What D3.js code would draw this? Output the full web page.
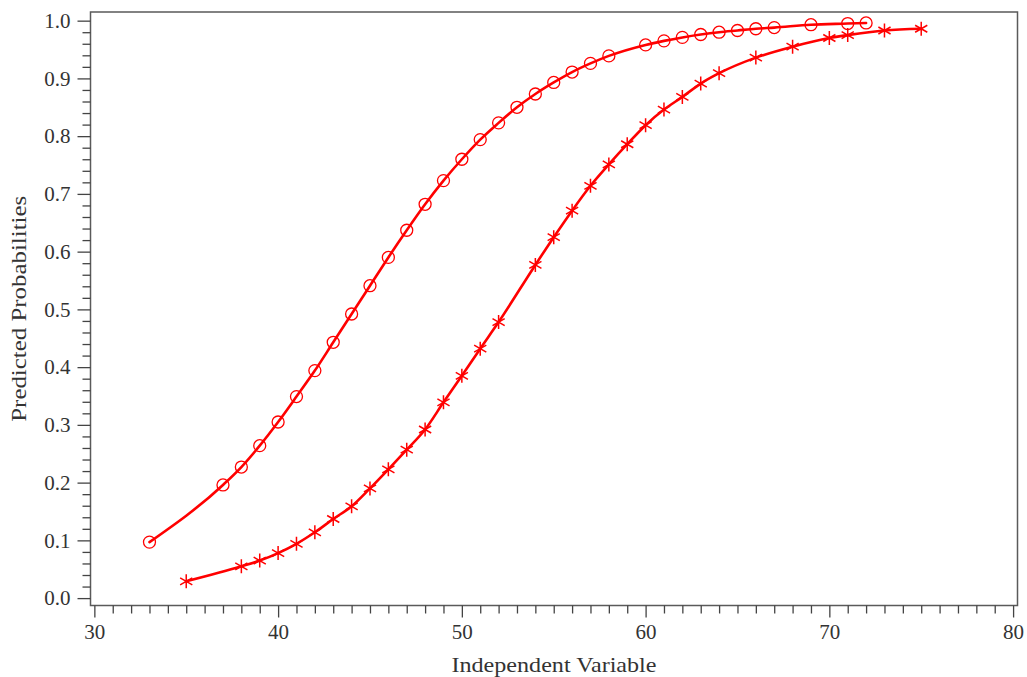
<!DOCTYPE html>
<html>
<head>
<meta charset="utf-8">
<script src="https://cdn.jsdelivr.net/npm/d3@7"></script>
<style>
  html, body { margin: 0; padding: 0; background: #fff; }
  svg { display: block; }
  text { font-family: "Liberation Serif", "DejaVu Serif", serif; fill: #333; }
</style>
</head>
<body>
<svg id="chart" width="1027" height="677"></svg>
<script>
// ---- data ----
const circleX = [33, 37, 38, 39, 40, 41, 42, 43, 44, 45, 46, 47, 48, 49, 50, 51, 52, 53, 54, 55, 56, 57, 58, 60, 61, 62, 63, 64, 65, 66, 67, 69, 71, 72];
const circleY = [0.097, 0.196, 0.227, 0.264, 0.305, 0.349, 0.394, 0.443, 0.492, 0.541, 0.590, 0.637, 0.682, 0.723, 0.760, 0.794, 0.823, 0.850, 0.873, 0.893, 0.911, 0.926, 0.939, 0.958, 0.965, 0.971, 0.976, 0.980, 0.983, 0.986, 0.988, 0.993, 0.995, 0.996];
const starX = [35, 38, 39, 40, 41, 42, 43, 44, 45, 46, 47, 48, 49, 50, 51, 52, 54, 55, 56, 57, 58, 59, 60, 61, 62, 63, 64, 66, 68, 70, 71, 73, 75];
const starY = [0.029, 0.055, 0.065, 0.078, 0.094, 0.114, 0.137, 0.159, 0.190, 0.223, 0.257, 0.292, 0.339, 0.385, 0.432, 0.478, 0.577, 0.625, 0.671, 0.714, 0.751, 0.786, 0.819, 0.846, 0.868, 0.891, 0.909, 0.936, 0.955, 0.970, 0.975, 0.983, 0.986];
const xTickValues = [30, 40, 50, 60, 70, 80];
const yTickValues = [0, 0.1, 0.2, 0.3, 0.4, 0.5, 0.6, 0.7, 0.8, 0.9, 1.0];
const xTitle = "Independent Variable";
const yTitle = "Predicted Probabilities";

// ---- layout ----
const svg = d3.select("#chart");
const plot = { left: 90.5, right: 1017.5, top: 12, bottom: 605.5 };
const x = d3.scaleLinear().domain([29.79, 80.24]).range([plot.left, plot.right]);
const y = d3.scaleLinear().domain([-0.0128, 1.015]).range([plot.bottom, plot.top]);
const red = "#ff0000";

// frame
svg.append("rect")
  .attr("x", plot.left).attr("y", plot.top)
  .attr("width", plot.right - plot.left).attr("height", plot.bottom - plot.top)
  .attr("fill", "none").attr("stroke", "#5a5a5a").attr("stroke-width", 1.5);

// x axis: minor then major
const xMinor = d3.range(30, 81, 1).filter(v => v % 10 !== 0);
const gxMinor = svg.append("g").attr("transform", `translate(0,${plot.bottom})`)
  .call(d3.axisBottom(x).tickValues(xMinor).tickSize(8).tickFormat(""));
const gx = svg.append("g").attr("transform", `translate(0,${plot.bottom})`)
  .call(d3.axisBottom(x).tickValues(xTickValues).tickSize(12).tickPadding(7).tickFormat(d3.format("d")));

// y axis
const yMinor = d3.range(0, 51, 1).map(v => v / 50).filter((v, i) => i % 5 !== 0);
const gyMinor = svg.append("g").attr("transform", `translate(${plot.left},0)`)
  .call(d3.axisLeft(y).tickValues(yMinor).tickSize(8).tickFormat(""));
const gy = svg.append("g").attr("transform", `translate(${plot.left},0)`)
  .call(d3.axisLeft(y).tickValues(yTickValues).tickSize(13).tickPadding(7).tickFormat(d3.format(".1f")));

[gxMinor, gx, gyMinor, gy].forEach(g => {
  g.select(".domain").remove();
  g.selectAll(".tick line").attr("stroke", "#444").attr("stroke-width", 1.3);
  g.selectAll(".tick text").style("font-family", '"Liberation Serif", serif').style("font-size", "21px").attr("fill", "#333");
});

// titles
svg.append("text")
  .attr("x", (plot.left + plot.right) / 2).attr("y", 672)
  .attr("text-anchor", "middle").style("font-size", "22px")
  .attr("textLength", 205).attr("lengthAdjust", "spacingAndGlyphs")
  .text(xTitle);
svg.append("text")
  .attr("transform", `translate(26,${(plot.top + plot.bottom) / 2}) rotate(-90)`)
  .attr("text-anchor", "middle").style("font-size", "22px")
  .attr("textLength", 226).attr("lengthAdjust", "spacingAndGlyphs")
  .text(yTitle);

// series lines
const circleData = circleX.map((v, i) => [v, circleY[i]]);
const starData = starX.map((v, i) => [v, starY[i]]);
const line = d3.line().x(d => x(d[0])).y(d => y(d[1])).curve(d3.curveMonotoneX);

[circleData, starData].forEach(data => {
  svg.append("path").datum(data)
    .attr("d", line).attr("fill", "none")
    .attr("stroke", red).attr("stroke-width", 2.6)
    .attr("stroke-linejoin", "round").attr("stroke-linecap", "round");
});

// circle markers
svg.append("g").selectAll("circle").data(circleData).join("circle")
  .attr("cx", d => x(d[0])).attr("cy", d => y(d[1])).attr("r", 6)
  .attr("fill", "none").attr("stroke", red).attr("stroke-width", 1.3);

// star markers (asterisk)
const s = 7;
const starPath = `M0,${-s}L0,${s}M${-s*0.87},${-s*0.5}L${s*0.87},${s*0.5}M${-s*0.87},${s*0.5}L${s*0.87},${-s*0.5}`;
svg.append("g").selectAll("path").data(starData).join("path")
  .attr("transform", d => `translate(${x(d[0])},${y(d[1])})`)
  .attr("d", starPath)
  .attr("fill", "none").attr("stroke", red).attr("stroke-width", 1.5);
</script>
</body>
</html>
